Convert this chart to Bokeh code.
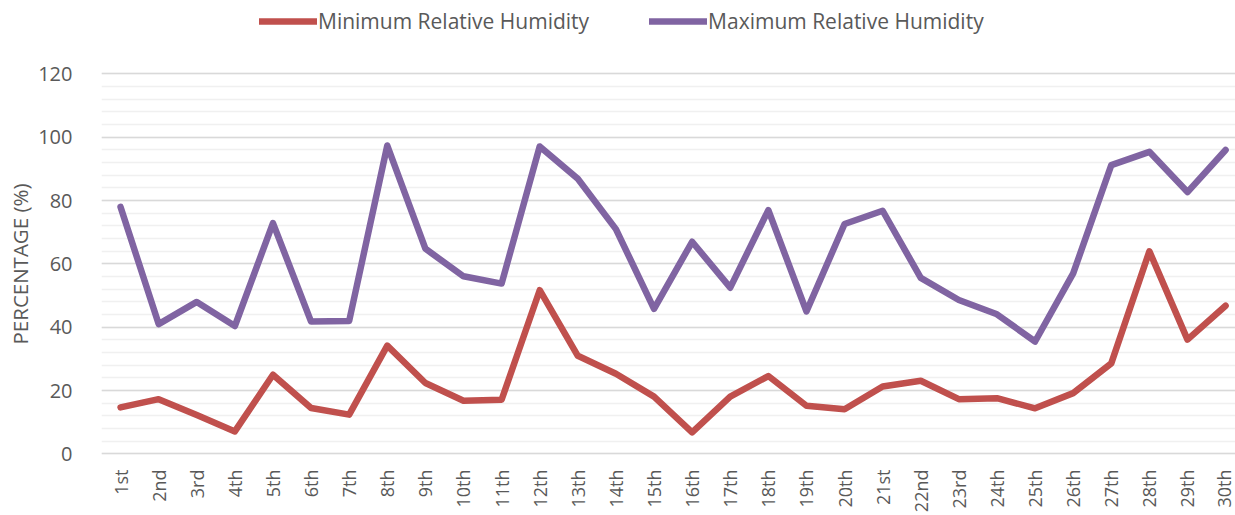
import math
from bokeh.plotting import figure
from bokeh.models import Range1d, FixedTicker, Legend, LegendItem, Title
from bokeh.embed import file_html
from bokeh.resources import INLINE

days = ["1st", "2nd", "3rd", "4th", "5th", "6th", "7th", "8th", "9th", "10th",
        "11th", "12th", "13th", "14th", "15th", "16th", "17th", "18th", "19th", "20th",
        "21st", "22nd", "23rd", "24th", "25th", "26th", "27th", "28th", "29th", "30th"]
min_rh = [14.7, 17.3, 12.3, 7.1, 25.0, 14.5, 12.4, 34.2, 22.4, 16.8,
          17.1, 51.7, 31.0, 25.3, 18.1, 6.8, 18.1, 24.6, 15.2, 14.1,
          21.3, 23.1, 17.3, 17.6, 14.4, 19.2, 28.6, 64.0, 36.1, 46.8]
max_rh = [78.0, 41.0, 48.0, 40.4, 72.9, 41.8, 42.0, 97.4, 64.8, 56.1,
          53.8, 97.1, 86.9, 71.0, 45.8, 67.0, 52.5, 77.0, 45.0, 72.6,
          76.8, 55.6, 48.6, 44.1, 35.5, 57.0, 91.2, 95.4, 82.7, 96.0]
y_ticks = [0, 20, 40, 60, 80, 100, 120]

xs = list(range(1, len(days) + 1))

TEXT = "#595959"
FONT = "Open Sans"

# frame extends to the top of the canvas so the legend can sit inside it
p = figure(width=1235, height=515, output_backend="svg", toolbar_location=None,
           x_range=Range1d(0.5, 30.26), y_range=Range1d(-0.5, 143.2),
           min_border_left=101, min_border_right=0, min_border_top=0, min_border_bottom=59)
p.outline_line_color = None
p.background_fill_color = "white"
p.border_fill_color = "white"

r_min = p.line(xs, min_rh, line_color="#C0504D", line_width=6.5, line_join="round", line_cap="round")
r_max = p.line(xs, max_rh, line_color="#8064A2", line_width=6.5, line_join="round", line_cap="round")

# y axis
p.yaxis.ticker = FixedTicker(ticks=y_ticks, minor_ticks=list(range(0, 121, 4)))
p.yaxis.axis_line_color = None
p.yaxis.major_tick_line_color = None
p.yaxis.minor_tick_line_color = None
p.yaxis.major_label_text_font_size = "20px"
p.yaxis.major_label_text_color = TEXT
p.yaxis.major_label_text_font = FONT
p.yaxis.major_label_standoff = 23

ytitle = Title(text="PERCENTAGE (%)", align="left", offset=111, standoff=4,
               text_font=FONT, text_font_size="20.5px", text_font_style="normal",
               text_color=TEXT)
p.add_layout(ytitle, "left")

# x axis
p.xaxis.ticker = FixedTicker(ticks=xs)
p.xaxis.major_label_overrides = {x: d for x, d in zip(xs, days)}
p.xaxis.major_label_orientation = math.pi / 2
p.xaxis.axis_line_color = None
p.xaxis.major_tick_line_color = None
p.xaxis.minor_tick_line_color = None
p.xaxis.major_label_text_font_size = "18px"
p.xaxis.major_label_text_color = TEXT
p.xaxis.major_label_text_font = FONT
p.xaxis.major_label_standoff = 8

# grid
p.xgrid.grid_line_color = None
p.ygrid.grid_line_color = "#d9d9d9"
p.ygrid.grid_line_width = 1.5
p.ygrid.minor_grid_line_color = "#f0f0f0"
p.ygrid.minor_grid_line_width = 1.5

legend = Legend(items=[LegendItem(label="Minimum Relative Humidity", renderers=[r_min]),
                       LegendItem(label="Maximum Relative Humidity", renderers=[r_max])],
                orientation="horizontal", location=(158, 420),
                glyph_width=58, glyph_height=20, label_standoff=1, spacing=60,
                padding=0, margin=0, border_line_color=None, background_fill_alpha=0,
                label_text_font=FONT, label_text_font_size="21px", label_text_color=TEXT)
p.add_layout(legend, "center")

open("out.html", "w").write(file_html(p, INLINE))
